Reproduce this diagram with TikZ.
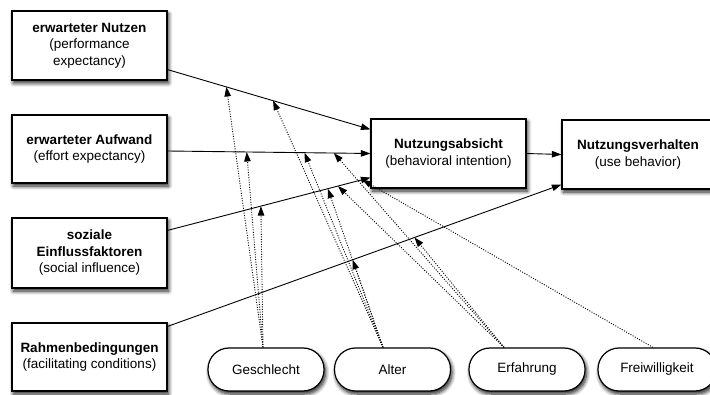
\documentclass[tikz,border=0pt]{standalone}
\usepackage{fontspec}
\setmainfont{Liberation Sans}
\usetikzlibrary{arrows.meta,shadows.blur}
\begin{document}
\begin{tikzpicture}[x=1pt,y=-1pt,
  font=\fontsize{13.5}{16.5}\selectfont,
  shad/.style={blur shadow={shadow xshift=1.5pt,shadow yshift=-3pt,shadow blur radius=4pt,shadow blur steps=8,shadow opacity=90}},
  box/.style={draw=black,line width=1.2pt,fill=white,align=center,
    minimum width=155pt,minimum height=69pt,inner sep=2pt,shad},
  oval/.style={draw=black,line width=1.2pt,fill=white,rounded corners=21pt,
    minimum width=116pt,minimum height=43pt,inner sep=2pt,shad},
  conn/.style={line width=0.9pt,-{Triangle[length=9.5pt,width=6.5pt]}},
  mod/.style={line width=0.9pt,dash pattern=on 1pt off 1.5pt,-{Triangle[length=9.5pt,width=6.5pt]}}]
\useasboundingbox (0,0) rectangle (710,395);
\clip (0,0) rectangle (710,395);

\node[box] (n1) at (89.5,45.5) {\textbf{erwarteter Nutzen}\\(performance\\expectancy)};
\node[box,minimum height=68pt] (n2) at (89.5,149) {\textbf{erwarteter Aufwand}\\(effort expectancy)};
\node[box,minimum height=70pt] (n3) at (89.5,253) {\textbf{soziale}\\\textbf{Einflussfaktoren}\\(social influence)};
\node[box,minimum height=68pt] (n4) at (89.5,357) {\textbf{Rahmenbedingungen}\\(facilitating conditions)};

\node[box] (na) at (448.5,153.5) {\textbf{Nutzungsabsicht}\\(behavioral intention)};
\node[box,minimum width=152pt] (nv) at (638,154.5) {\textbf{Nutzungsverhalten}\\(use behavior)};

\node[oval] (g) at (266,369.5) {Geschlecht};
\node[oval] (al) at (392.5,369.5) {Alter};
\node[oval] (e) at (527,369.5) {Erfahrung};
\node[oval,minimum width=118pt] (f) at (657,369.5) {Freiwilligkeit};

\draw[conn] ([yshift=11pt]n1.south east) --
  coordinate[pos=0.29] (l1g) coordinate[pos=0.52] (l1a)
  ([yshift=-11pt]na.north west);
\draw[conn] ([yshift=-2pt]n2.east) --
  coordinate[pos=0.39] (l2g) coordinate[pos=0.675] (l2a) coordinate[pos=0.82] (l2e)
  (na.west);
\draw[conn] ([yshift=-13pt]n3.north east) --
  coordinate[pos=0.46] (l3g) coordinate[pos=0.79] (l3a) coordinate[pos=0.84] (l3e) coordinate[pos=0.96] (l3f)
  ([yshift=11pt]na.south west);
\draw[conn] ([yshift=-4pt]n4.north east) --
  coordinate[pos=0.47] (l4a) coordinate[pos=0.627] (l4e)
  ([yshift=5pt]nv.south west);
\draw[conn] (na.east) -- (nv.west);

\coordinate (gs) at ([xshift=-3pt]g.north);
\coordinate (as) at ([xshift=-9.5pt]al.north);
\coordinate (es) at ([xshift=-23pt]e.north);
\coordinate (fs) at ([xshift=-4pt]f.north);

\draw[mod] (gs) -- (l1g);
\draw[mod] (gs) -- (l2g);
\draw[mod] (gs) -- (l3g);
\draw[mod] (as) -- (l1a);
\draw[mod] (as) -- (l2a);
\draw[mod] (as) -- (l3a);
\draw[mod] (as) -- (l4a);
\draw[mod] (es) -- (l2e);
\draw[mod] (es) -- (l3e);
\draw[mod] (es) -- (l4e);
\draw[mod] (fs) -- (l3f);
\end{tikzpicture}
\end{document}
